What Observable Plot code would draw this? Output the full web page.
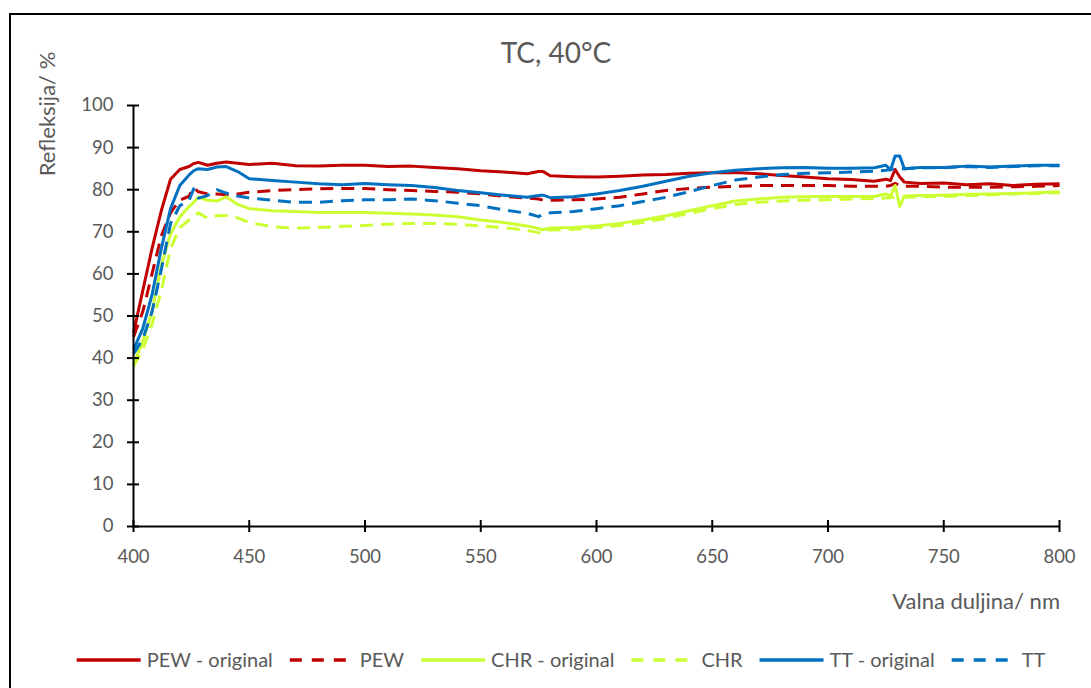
<!DOCTYPE html>
<html><head><meta charset="utf-8">
<script src="https://cdn.jsdelivr.net/npm/d3@7"></script>
<script src="https://cdn.jsdelivr.net/npm/@observablehq/plot@0.6"></script>
<style>
body{margin:0;background:#fff;}
#wrap{position:relative;width:1091px;height:688px;overflow:hidden;}
#frame{position:absolute;left:9px;top:13px;width:1200px;height:800px;border-left:2px solid #000;border-top:2px solid #000;pointer-events:none;}
</style></head>
<body>
<div id="wrap"><div id="frame"></div></div>
<script>
const titleText = "TC, 40°C";
const xLabel = "Valna duljina/ nm";
const yLabel = "Refleksija/ %";
const xTicks = [400, 450, 500, 550, 600, 650, 700, 750, 800];
const yTicks = [0, 10, 20, 30, 40, 50, 60, 70, 80, 90, 100];

const wavelengths = [400,404,408,412,416,420,424,426,428,432,436,440,445,450,
 460,470,480,490,500,510,520,530,540,550,560,570,575,577,
 580,590,600,610,620,630,640,650,660,670,680,690,700,710,720,
 725,727,729,731,733,740,750,760,770,780,790,800];

const pewOriginal = [46,56,66,75,82.5,84.8,85.5,86.2,86.5,85.8,86.3,86.6,86.3,86,
 86.3,85.7,85.6,85.8,85.8,85.5,85.6,85.3,85,84.5,84.2,83.8,84.3,84.3,
 83.3,83.1,83,83.2,83.5,83.6,83.9,84,84.1,83.8,83.4,83,82.6,82.4,82,
 82.5,82.2,84.8,83,81.8,81.5,81.6,81.2,81.4,81,81.3,81.4];
const pew = [45,51,60,69,74.5,77.5,78.5,80.5,79.5,79,79,78.8,79,79.4,
 79.8,80,80.2,80.3,80.3,80,79.8,79.6,79.4,79,78.4,78,77.8,77.5,
 77.5,77.6,77.8,78.2,79,79.8,80.3,80.6,80.8,81,81,81,81,80.8,80.8,
 80.8,81,81.5,81,80.8,80.8,80.6,80.6,80.6,80.7,80.8,81];
const chrOriginal = [38.5,44,51,62,69.5,73.5,76,77,78.2,77.5,77.3,78.3,76.5,75.5,
 75,74.8,74.6,74.6,74.6,74.4,74.2,74,73.6,72.8,72.2,71.4,70.8,70.5,
 70.9,71,71.4,72,72.8,73.8,75,76.2,77.3,77.8,78.2,78.3,78.4,78.4,78.4,
 79,78.4,81,76,78.5,78.6,78.7,78.9,79,79.1,79.3,79.5];
const chr = [38,42,48,56,66,71,72.8,73.5,74.5,73.2,73.8,73.9,73.3,72.2,
 71.2,70.9,71,71.3,71.5,71.8,72,72,71.8,71.4,71,70.3,69.8,70.4,
 70.4,70.6,71,71.5,72.2,73.2,74.4,75.5,76.5,77,77.3,77.5,77.6,77.8,77.9,
 78,78.1,78.3,78.2,78.2,78.3,78.4,78.6,78.8,79,79.1,79.3];
const ttOriginal = [42,47,55,66,75.5,81,83.5,84.5,85,84.8,85.4,85.5,84.3,82.6,
 82.2,81.8,81.4,81.2,81.5,81.2,81,80.5,79.8,79.3,78.7,78.2,78.6,78.7,
 78.1,78.3,79,79.8,80.8,82,83.2,84,84.6,85,85.2,85.3,85.1,85.1,85.2,
 85.8,84.7,88,88,85,85.3,85.3,85.6,85.4,85.6,85.8,85.8];
const tt = [41,44.5,51,61,72,76.2,77.5,80.2,78,78.6,80,79.2,78.5,78,
 77.5,77,77,77.4,77.6,77.6,77.8,77.4,76.8,76.2,75.2,74.4,73.6,74.2,
 74.5,74.8,75.5,76.2,77.2,78.2,79.5,81,82.3,83,83.6,83.9,84,84.2,84.4,
 84.6,84.8,85,85,85,85.2,85.2,85.5,85.3,85.5,85.7,85.7];

const seriesNames = ["PEW - original", "PEW", "CHR - original", "CHR", "TT - original", "TT"];
const seriesValues = [pewOriginal, pew, chrOriginal, chr, ttOriginal, tt];
const seriesColors = ["#C00000", "#C00000", "#CCFF33", "#CCFF33", "#0070C0", "#0070C0"];
const seriesDashed = [false, true, false, true, false, true];

const DASH = "13,8";
const textColor = "#595959";
const font = "Lato, 'Open Sans', sans-serif";

const table = seriesNames.flatMap((name, k) =>
  wavelengths.map((wl, i) => ({series: name, wl, r: seriesValues[k][i]})));

const lineMarks = seriesNames.map((name, k) =>
  Plot.line(table.filter(d => d.series === name), {
    x: "wl", y: "r", stroke: seriesColors[k], strokeWidth: 3,
    strokeDasharray: seriesDashed[k] ? DASH : null,
    strokeLinejoin: "round", strokeLinecap: "butt"
  }));

const chart = Plot.plot({
  width: 1091, height: 688,
  marginLeft: 133, marginRight: 32, marginTop: 105, marginBottom: 162,
  style: {fontFamily: font, fontSize: "18.5px", color: textColor, background: "transparent", overflow: "visible"},
  x: {domain: [400, 800], ticks: xTicks, tickSize: 0, tickPadding: 23, tickFormat: d => String(d), label: null},
  y: {domain: [0, 100], ticks: yTicks, tickSize: 0, tickPadding: 20, tickFormat: d => String(d), label: null},
  marks: [
    ...lineMarks,
    Plot.ruleY([0], {stroke: "black", strokeWidth: 2}),
    Plot.ruleX([400], {stroke: "black", strokeWidth: 2}),
    Plot.ruleX(xTicks, {x: d => d, y1: () => 0, y2: () => 0, insetTop: -6, insetBottom: -6, stroke: "black", strokeWidth: 2}),
    Plot.ruleY(yTicks, {y: d => d, x1: () => 400, x2: () => 400, insetLeft: -6, insetRight: -6, stroke: "black", strokeWidth: 2})
  ]
});
chart.style.position = "absolute";
chart.style.left = "0px";
chart.style.top = "0px";
document.getElementById("wrap").appendChild(chart);

const svg = d3.select(chart);
svg.append("text").text(titleText)
  .attr("x", 556).attr("y", 63).attr("text-anchor", "middle")
  .attr("fill", textColor).style("font-size", "28px").style("font-family", font);
svg.append("text").text(yLabel)
  .attr("transform", "translate(55,114) rotate(-90)").attr("text-anchor", "middle")
  .attr("fill", textColor).style("font-size", "22px").style("font-family", font);
svg.append("text").text(xLabel)
  .attr("x", 1060).attr("y", 609).attr("text-anchor", "end")
  .attr("fill", textColor).style("font-size", "22px").style("font-family", font);

// legend
const lg = svg.append("g");
const legendY = 660, swatchW = 64, gapText = 6, gapItem = 17;
let cx = 0;
seriesNames.forEach((name, k) => {
  const g = lg.append("g");
  g.append("line").attr("x1", cx).attr("x2", cx + swatchW).attr("y1", legendY).attr("y2", legendY)
    .attr("stroke", seriesColors[k]).attr("stroke-width", 3.5)
    .attr("stroke-dasharray", seriesDashed[k] ? "12,10" : null);
  const t = g.append("text").text(name).attr("x", cx + swatchW + gapText).attr("y", legendY + 7)
    .attr("text-anchor", "start")
    .attr("fill", textColor).style("font-size", "20px").style("font-family", font);
  cx += swatchW + gapText + t.node().getComputedTextLength() + gapItem;
});
const total = cx - gapItem;
lg.attr("transform", `translate(${561 - total / 2},0)`);
</script>
</body></html>
